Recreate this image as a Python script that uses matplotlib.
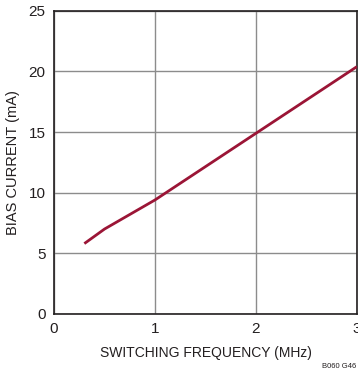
import matplotlib
matplotlib.use("Agg")
import matplotlib.pyplot as plt
from matplotlib import font_manager

freq_mhz = [0.3, 0.5, 1.0, 2.0, 3.0]
bias_ma = [5.8, 7.0, 9.4, 14.9, 20.4]
x_ticks = [0, 1, 2, 3]
y_ticks = [0, 5, 10, 15, 20, 25]

names = {f.name for f in font_manager.fontManager.ttflist}
fam = ['Liberation Sans Narrow', 'DejaVu Sans'] if 'Liberation Sans Narrow' in names else ['Liberation Sans', 'DejaVu Sans']
plt.rcParams['font.family'] = fam

fig = plt.figure(figsize=(3.58, 3.75), dpi=100)
ax = fig.add_axes([0.151, 0.163, 0.846, 0.808])
ax.plot(freq_mhz, bias_ma, color='#9b1536', lw=2.0, solid_capstyle='butt', zorder=3)
ax.set_xlim(0, 3)
ax.set_ylim(0, 25)
ax.set_xticks(x_ticks)
ax.set_yticks(y_ticks)
ax.grid(True, color='#8c8c8c', lw=1.0)
for s in ax.spines.values():
    s.set_color('#231f20')
    s.set_linewidth(1.2)
ax.tick_params(length=0, labelsize=11, pad=6, colors='#231f20')
ax.set_xlabel('SWITCHING FREQUENCY (MHz)', fontsize=10, labelpad=7, color='#231f20')
ax.set_ylabel('BIAS CURRENT (mA)', fontsize=10.5, labelpad=6, color='#231f20')
fig.text(0.994, 0.022, 'B060 G46', fontsize=5.5, ha='right', va='center', color='#231f20')
fig.savefig('out.png', dpi=100)
